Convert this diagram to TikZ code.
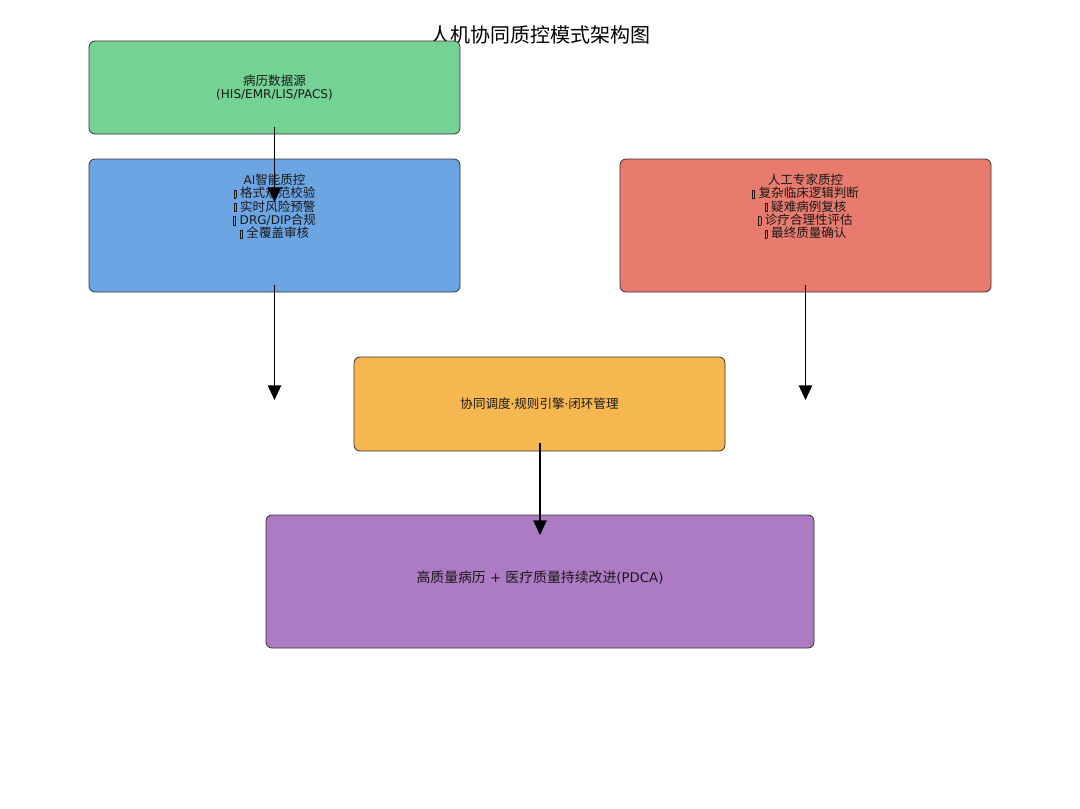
\documentclass[tikz,border=0pt]{standalone}
\usepackage{fontspec}
\setmainfont{Noto Sans CJK SC}
\newfontfamily\latin{DejaVu Sans}[Scale=0.96]
\usetikzlibrary{arrows.meta,calc}
\definecolor{srcgreen}{RGB}{115,210,148}
\definecolor{aiblue}{RGB}{108,165,228}
\definecolor{expred}{RGB}{232,122,110}
\definecolor{hubamber}{RGB}{246,183,80}
\definecolor{outviolet}{RGB}{173,122,196}
% empty glyph box, as printed in the source
\newcommand{\tofu}{{\setlength{\fboxsep}{0pt}\setlength{\fboxrule}{0.35pt}\fbox{\rule{0pt}{5.8pt}\hspace{1.4pt}}{\latin\ }}}
\newcommand{\lt}[1]{{\latin #1}}

\begin{document}
\begin{tikzpicture}[x=0.75pt,y=0.75pt,line join=round,
  box/.style={draw=black!80,line width=0.6pt,rounded corners=4.5pt,inner sep=0pt},
  boxtext/.style={font=\fontsize{9.4}{10}\selectfont,align=center,text=black!90},
  flow/.style={-{Triangle[width=10pt,length=11pt]},line width=1.1pt}]
\useasboundingbox (0,0) rectangle (1080,-808);
\node[font=\fontsize{15}{18}\selectfont] (title) at (540,-35) {人机协同质控模式架构图};
% boxes
\node[box,boxtext,fill=srcgreen,minimum width=278.25pt,minimum height=69.75pt] (src) at (274.5,-87.5) {病历数据源\\\lt{(HIS/EMR/LIS/PACS)}};
\node[box,fill=aiblue,minimum width=278.25pt,minimum height=99.75pt] (ai) at (274.5,-225.5) {};
\node[boxtext] (aitext) at (274.5,-206.5) {\lt{AI}智能质控\\\tofu 格式规范校验\\\tofu 实时风险预警\\\tofu \lt{DRG/DIP}合规\\\tofu 全覆盖审核};
\node[box,fill=expred,minimum width=278.25pt,minimum height=99.75pt] (exp) at (805.5,-225.5) {};
\node[boxtext] (exptext) at (805.5,-206.5) {人工专家质控\\\tofu 复杂临床逻辑判断\\\tofu 疑难病例复核\\\tofu 诊疗合理性评估\\\tofu 最终质量确认};
\node[box,boxtext,fill=hubamber,minimum width=278.25pt,minimum height=70.5pt] (hub) at (539.5,-404) {协同调度\lt{·}规则引擎\lt{·}闭环管理};
\node[box,fill=outviolet,minimum width=411pt,minimum height=99.75pt] (out) at (540,-581.5) {};
\node[boxtext,font=\fontsize{10.4}{12}\selectfont] (outtext) at (540,-578) {高质量病历\lt{ + }医疗质量持续改进\lt{(PDCA)}};
% arrow ends
\coordinate (srcend) at (274.5,-202);
\coordinate (aiend) at (274.5,-400);
\coordinate (expend) at (805.5,-400);
\coordinate (hubend) at (540,-535);
\draw[flow] ($(src.south)+(0,7)$) -- (srcend);
\draw[flow] ($(ai.south)+(0,7)$) -- (aiend);
\draw[flow] ($(exp.south)+(0,7)$) -- (expend);
\draw[flow] ($(hub.south)+(0.5,8)$) -- (hubend);
\end{tikzpicture}
\end{document}
